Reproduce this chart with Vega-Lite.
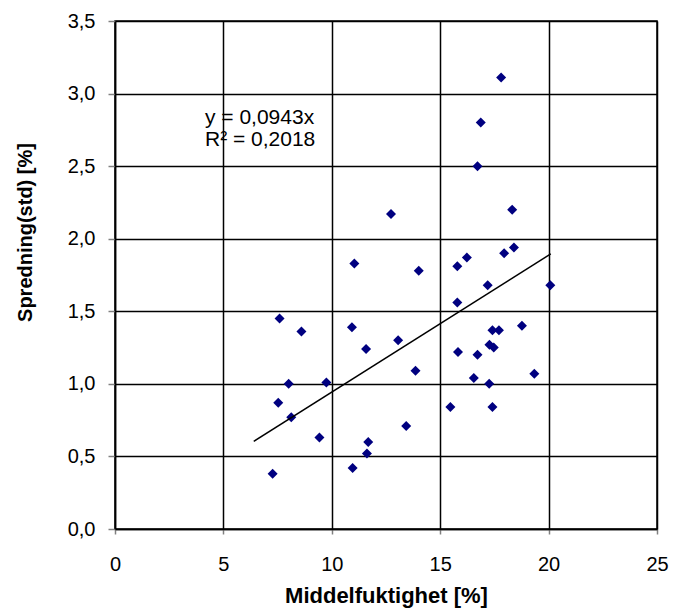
{
  "$schema": "https://vega.github.io/schema/vega-lite/v6.json",
  "width": 542,
  "height": 508,
  "autosize": {"type": "none"},
  "padding": {"left": 115, "top": 21, "right": 16, "bottom": 79},
  "background": "white",
  "config": {
    "view": {"stroke": "black", "strokeWidth": 1.5},
    "font": "Liberation Sans",
    "axis": {
      "gridColor": "black",
      "gridWidth": 1.5,
      "gridOpacity": 1,
      "domainColor": "black",
      "domainWidth": 1.5,
      "tickColor": "#808080",
      "tickWidth": 1.5,
      "labelColor": "black",
      "titleColor": "black",
      "labelFont": "Liberation Sans",
      "titleFont": "Liberation Sans",
      "labelFontSize": 20,
      "titleFontWeight": "bold",
      "labelOverlap": false,
      "labelFlush": false
    }
  },
  "layer": [
    {
      "data": {
        "values": [
          {"x": 17.81, "y": 3.11},
          {"x": 16.87, "y": 2.80},
          {"x": 16.72, "y": 2.50},
          {"x": 18.32, "y": 2.20},
          {"x": 12.73, "y": 2.17},
          {"x": 18.40, "y": 1.94},
          {"x": 17.95, "y": 1.90},
          {"x": 16.23, "y": 1.87},
          {"x": 15.79, "y": 1.81},
          {"x": 11.04, "y": 1.83},
          {"x": 14.01, "y": 1.78},
          {"x": 17.19, "y": 1.68},
          {"x": 20.08, "y": 1.68},
          {"x": 15.79, "y": 1.56},
          {"x": 7.59, "y": 1.45},
          {"x": 10.93, "y": 1.39},
          {"x": 18.77, "y": 1.40},
          {"x": 8.60, "y": 1.36},
          {"x": 17.41, "y": 1.37},
          {"x": 17.71, "y": 1.37},
          {"x": 13.06, "y": 1.30},
          {"x": 11.58, "y": 1.24},
          {"x": 17.27, "y": 1.27},
          {"x": 17.47, "y": 1.25},
          {"x": 15.82, "y": 1.22},
          {"x": 16.72, "y": 1.20},
          {"x": 13.86, "y": 1.09},
          {"x": 19.34, "y": 1.07},
          {"x": 16.55, "y": 1.04},
          {"x": 8.01, "y": 1.00},
          {"x": 9.75, "y": 1.01},
          {"x": 17.26, "y": 1.00},
          {"x": 7.53, "y": 0.87},
          {"x": 15.47, "y": 0.84},
          {"x": 17.41, "y": 0.84},
          {"x": 8.13, "y": 0.77},
          {"x": 13.43, "y": 0.71},
          {"x": 9.43, "y": 0.63},
          {"x": 11.68, "y": 0.60},
          {"x": 11.62, "y": 0.52},
          {"x": 10.96, "y": 0.42},
          {"x": 7.27, "y": 0.38}
        ]
      },
      "mark": {"type": "point", "shape": "diamond", "filled": true, "color": "#000080", "size": 100, "opacity": 1},
      "encoding": {
        "x": {
          "field": "x",
          "type": "quantitative",
          "scale": {"domain": [0, 25], "nice": false},
          "axis": {
            "values": [0, 5, 10, 15, 20, 25],
            "tickSize": 5,
            "labelPadding": 20,
            "title": "Middelfuktighet [%]",
            "titleFontSize": 22,
            "titleBaseline": "alphabetic",
            "titleY": 73
          }
        },
        "y": {
          "field": "y",
          "type": "quantitative",
          "scale": {"domain": [0, 3.5], "nice": false},
          "axis": {
            "values": [0, 0.5, 1, 1.5, 2, 2.5, 3, 3.5],
            "labelExpr": "replace(format(datum.value, '.1f'), '.', ',')",
            "tickSize": 7,
            "labelPadding": 13,
            "title": "Spredning(std) [%]",
            "titleFontSize": 20,
            "titleBaseline": "alphabetic",
            "titleX": -84,
            "titleY": 211
          }
        }
      }
    },
    {
      "data": {"values": [{"x": 6.4, "y": 0.6035}, {"x": 20.1, "y": 1.8954}]},
      "mark": {"type": "line", "color": "black", "strokeWidth": 1.5},
      "encoding": {
        "x": {"field": "x", "type": "quantitative"},
        "y": {"field": "y", "type": "quantitative"}
      }
    },
    {
      "data": {
        "values": [
          {"t": "y = 0,0943x", "x": 4.15, "y": 2.83},
          {"t": "R² = 0,2018", "x": 4.15, "y": 2.68}
        ]
      },
      "mark": {"type": "text", "align": "left", "baseline": "middle", "fontSize": 21, "font": "Liberation Sans", "color": "black"},
      "encoding": {
        "x": {"field": "x", "type": "quantitative"},
        "y": {"field": "y", "type": "quantitative"},
        "text": {"field": "t"}
      }
    }
  ]
}
